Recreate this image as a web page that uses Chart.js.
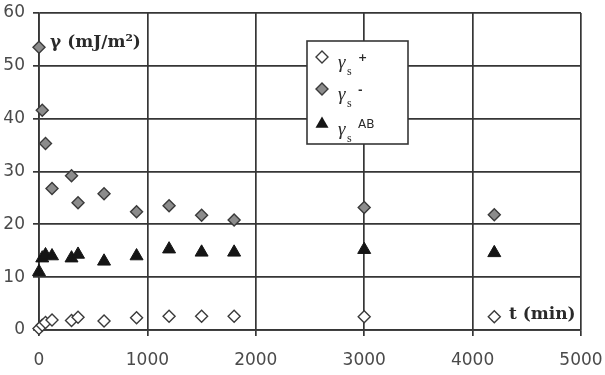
<!DOCTYPE html>
<html>
<head>
<meta charset="utf-8">
<script src="https://cdn.jsdelivr.net/npm/chart.js@4/dist/chart.umd.min.js"></script>
<style>
  html, body { margin: 0; padding: 0; background: #fff; }
  #wrap { width: 605px; height: 375px; }
</style>
</head>
<body>
<div id="wrap"><canvas id="chart" width="605" height="375"></canvas></div>
<script>
// time points (min)
const times = [0, 30, 60, 120, 300, 360, 600, 900, 1200, 1500, 1800, 3000, 4200];
// gamma_s+ (open diamonds)
const gammaPlus = [0.3, 0.9, 1.4, 1.9, 1.8, 2.4, 1.7, 2.3, 2.6, 2.6, 2.6, 2.5, 2.5];
// gamma_s- (grey diamonds)
const gammaMinus = [53.5, 41.6, 35.3, 26.8, 29.2, 24.1, 25.8, 22.4, 23.5, 21.7, 20.8, 23.2, 21.8];
// gamma_s AB (black triangles)
const gammaAB = [11.0, 13.6, 14.2, 14.0, 13.6, 14.3, 13.0, 14.0, 15.3, 14.7, 14.7, 15.2, 14.6];

const xTicks = [0, 1000, 2000, 3000, 4000, 5000];
const yTicks = [0, 10, 20, 30, 40, 50, 60];

const lineColor = "#363636";
const tickColor = "#4a4a4a";

const toPoints = (vals) => times.map((t, i) => ({ x: t, y: vals[i] }));

// scales should not reserve extra room for overhanging tick labels
function noScalePadding(scale) {
    scale.paddingLeft = 0;
    scale.paddingRight = 0;
    scale.paddingTop = 0;
    scale.paddingBottom = 0;
}

function drawMarker(ctx, kind, x, y) {
    ctx.save();
    ctx.lineWidth = 1.4;
    ctx.strokeStyle = "#3a3a3a";
    ctx.beginPath();
    if (kind === "tri") {
        const r = 7.5;
        ctx.moveTo(x, y - r);
        ctx.lineTo(x + r * 0.866, y + r / 2);
        ctx.lineTo(x - r * 0.866, y + r / 2);
        ctx.closePath();
        ctx.fillStyle = "#151515";
        ctx.fill();
    } else {
        const r = 6;
        ctx.moveTo(x, y - r);
        ctx.lineTo(x + r, y);
        ctx.lineTo(x, y + r);
        ctx.lineTo(x - r, y);
        ctx.closePath();
        ctx.fillStyle = kind === "grey" ? "#8c8c8c" : "#ffffff";
        ctx.fill();
        ctx.stroke();
    }
    ctx.restore();
}

const annotations = {
    id: "annotations",
    afterDraw(chart) {
        const ctx = chart.ctx;
        ctx.save();
        ctx.fillStyle = "#2a2a2a";
        ctx.textBaseline = "middle";
        ctx.textAlign = "left";
        ctx.font = "bold 17px 'DejaVu Serif'";
        ctx.fillText("\u03b3 (mJ/m\u00b2)", 50, 43);
        ctx.fillText("t (min)", 509, 315);

        // legend box
        const bx = 307, by = 41, bw = 101, bh = 103;
        ctx.fillStyle = "#fff";
        ctx.fillRect(bx, by, bw, bh);
        ctx.strokeStyle = lineColor;
        ctx.lineWidth = 1.6;
        ctx.strokeRect(bx, by, bw, bh);

        const rows = [
            { kind: "open", y: 57, sup: "+", supFont: "bold 11px 'DejaVu Sans'" },
            { kind: "grey", y: 89, sup: "-", supFont: "bold 11px 'DejaVu Sans'" },
            { kind: "tri", y: 124, sup: "AB", supFont: "12px 'DejaVu Sans'" },
        ];
        rows.forEach((r) => {
            drawMarker(ctx, r.kind, 322, r.y);
            ctx.fillStyle = "#2a2a2a";
            ctx.textBaseline = "alphabetic";
            ctx.font = "italic 19px 'Liberation Serif'";
            ctx.fillText("\u03b3", 338, r.y + 11);
            ctx.font = "12px 'Liberation Serif'";
            ctx.fillText("s", 347, r.y + 18);
            ctx.font = r.supFont;
            ctx.fillText(r.sup, 358, r.y + 4);
        });
        ctx.restore();
    },
};

new Chart(document.getElementById("chart"), {
    type: "scatter",
    data: {
        datasets: [
            {
                label: "gamma_s+",
                data: toPoints(gammaPlus),
                pointStyle: "rectRot",
                pointRadius: 6,
                pointBackgroundColor: "#ffffff",
                pointBorderColor: "#3a3a3a",
                pointBorderWidth: 1.4,
                clip: false,
            },
            {
                label: "gamma_s-",
                data: toPoints(gammaMinus),
                pointStyle: "rectRot",
                pointRadius: 6,
                pointBackgroundColor: "#8c8c8c",
                pointBorderColor: "#3a3a3a",
                pointBorderWidth: 1.4,
                clip: false,
            },
            {
                label: "gamma_s AB",
                data: toPoints(gammaAB),
                pointStyle: "triangle",
                pointRadius: 7.5,
                pointBackgroundColor: "#151515",
                pointBorderColor: "#151515",
                pointBorderWidth: 1,
                clip: false,
            },
        ],
    },
    options: {
        responsive: false,
        animation: false,
        layout: { padding: { top: 13, right: 24, left: 0, bottom: 0 } },
        plugins: {
            legend: { display: false },
            tooltip: { enabled: false },
        },
        scales: {
            x: {
                type: "linear",
                min: 0,
                max: 5000,
                afterBuildTicks: (scale) => { scale.ticks = xTicks.map((v) => ({ value: v })); },
                afterFit: (scale) => { scale.height = 45; noScalePadding(scale); },
                grid: { color: lineColor, lineWidth: 1.7, tickLength: 6, drawTicks: true },
                border: { color: lineColor, width: 1.7 },
                ticks: {
                    color: tickColor,
                    padding: 14,
                    font: { family: "'DejaVu Sans'", size: 17 },
                    maxRotation: 0,
                    callback: (v) => String(v),
                },
            },
            y: {
                min: 0,
                max: 60,
                afterBuildTicks: (scale) => { scale.ticks = yTicks.map((v) => ({ value: v })); },
                afterFit: (scale) => { scale.width = 39; noScalePadding(scale); },
                grid: { color: lineColor, lineWidth: 1.7, tickLength: 6, drawTicks: true },
                border: { color: lineColor, width: 1.7 },
                ticks: {
                    color: tickColor,
                    padding: 8,
                    font: { family: "'DejaVu Sans'", size: 17 },
                    callback: (v) => String(v),
                },
            },
        },
    },
    plugins: [annotations],
});
</script>
</body>
</html>
